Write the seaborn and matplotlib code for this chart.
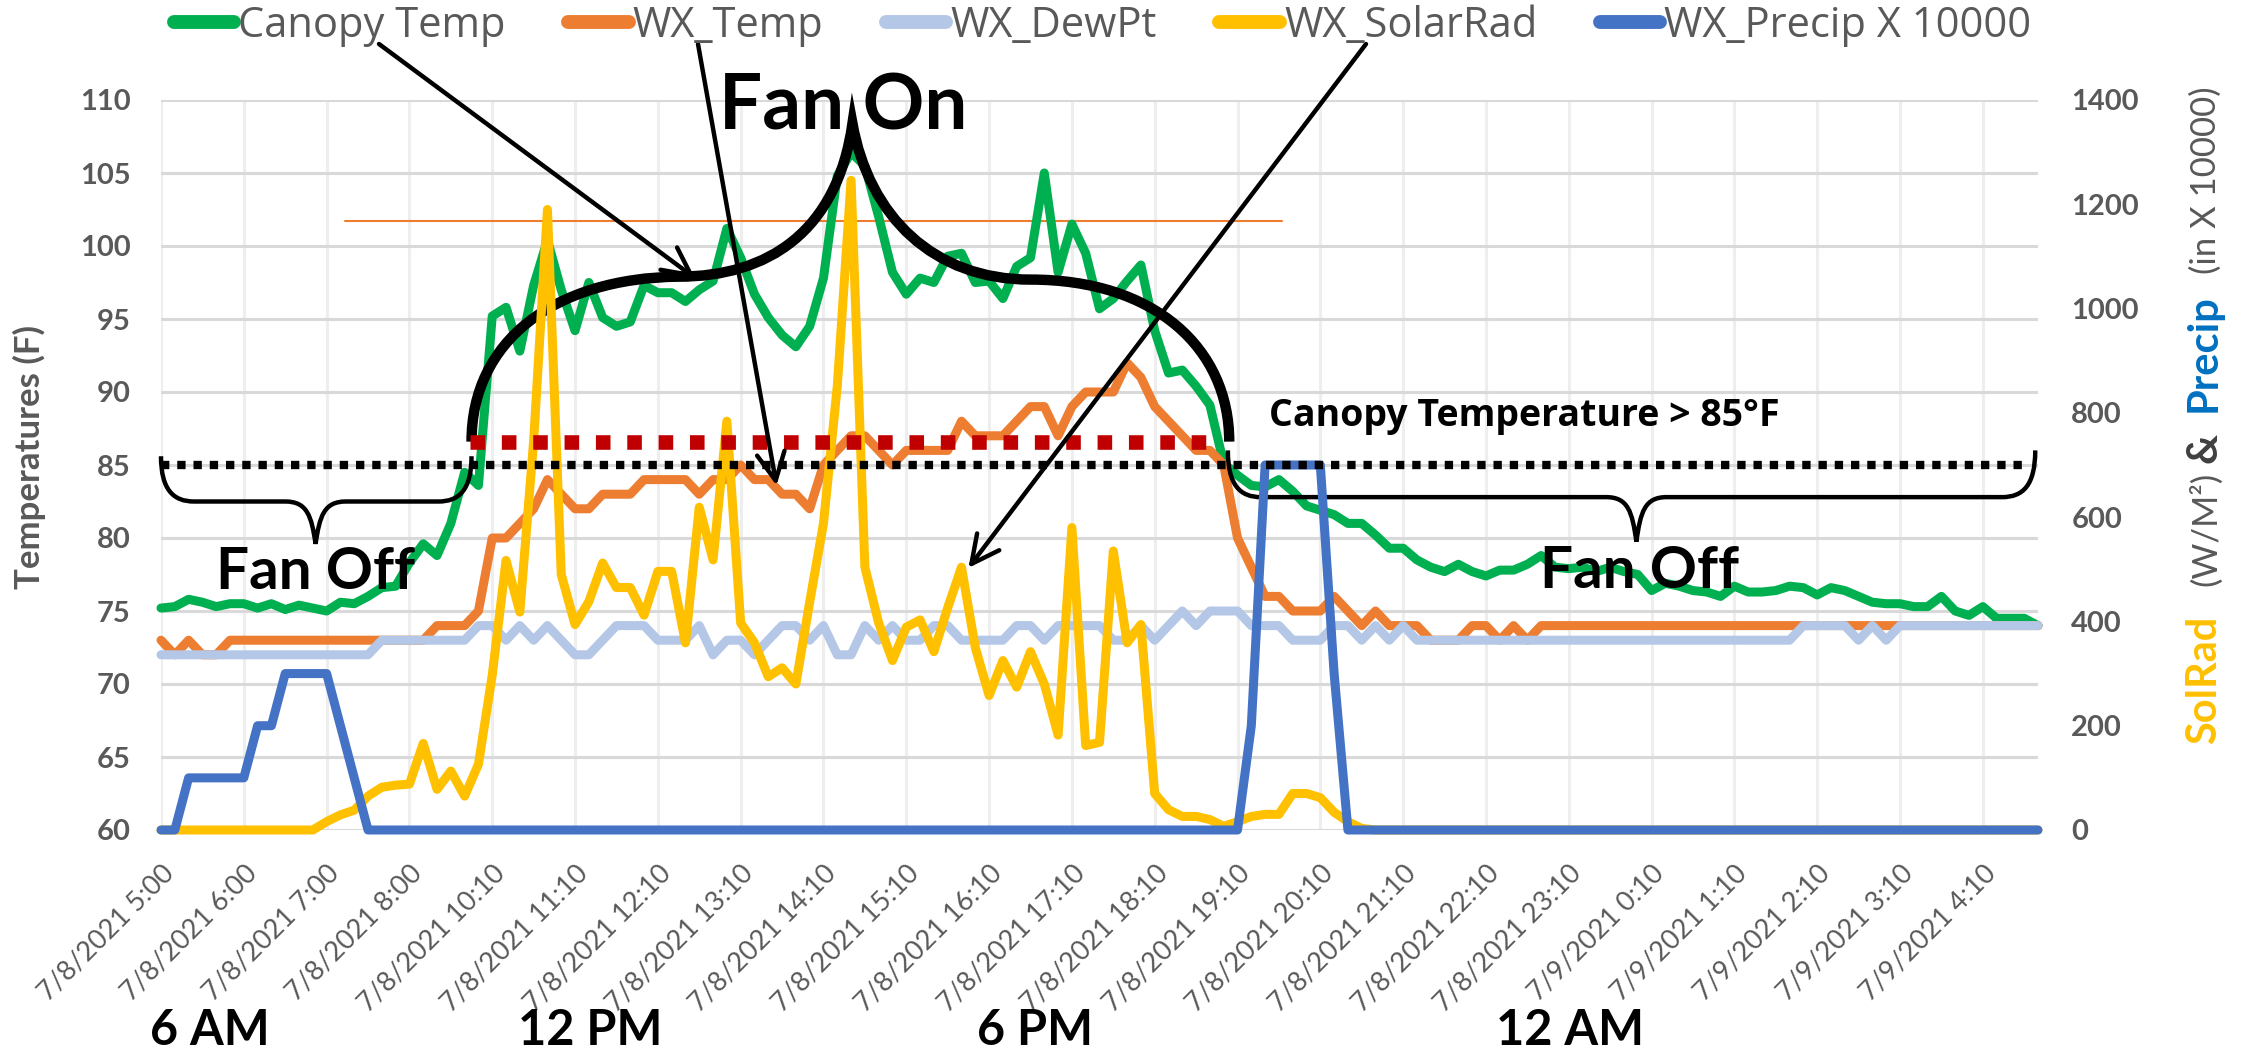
import numpy as np
import pandas as pd
import matplotlib.pyplot as plt
import seaborn as sns
from matplotlib.lines import Line2D
from matplotlib.path import Path
from matplotlib.patches import PathPatch

# 10-minute readings (one gap 8:00 -> 10:10); one axis label every 6 readings
tick_labels = ['7/8/2021 5:00', '7/8/2021 6:00', '7/8/2021 7:00', '7/8/2021 8:00',
               '7/8/2021 10:10', '7/8/2021 11:10', '7/8/2021 12:10', '7/8/2021 13:10',
               '7/8/2021 14:10', '7/8/2021 15:10', '7/8/2021 16:10', '7/8/2021 17:10',
               '7/8/2021 18:10', '7/8/2021 19:10', '7/8/2021 20:10', '7/8/2021 21:10',
               '7/8/2021 22:10', '7/8/2021 23:10', '7/9/2021 0:10', '7/9/2021 1:10',
               '7/9/2021 2:10', '7/9/2021 3:10', '7/9/2021 4:10']

canopy_temp = [
    75.2, 75.3, 75.8, 75.6, 75.3, 75.5, 75.5, 75.2, 75.5, 75.1,
    75.4, 75.2, 75.0, 75.6, 75.5, 76.0, 76.6, 76.7, 78.3, 79.6,
    78.8, 81.0, 84.5, 83.6, 95.2, 95.8, 92.8, 97.3, 100.4, 97.0,
    94.2, 97.5, 95.1, 94.5, 94.8, 97.3, 96.8, 96.8, 96.2, 97.0,
    97.6, 101.2, 99.2, 96.7, 95.1, 93.9, 93.1, 94.5, 97.8, 104.8,
    106.4, 105.5, 102.0, 98.2, 96.7, 97.8, 97.5, 99.3, 99.5, 97.5,
    97.6, 96.4, 98.6, 99.2, 105.0, 98.2, 101.5, 99.5, 95.7, 96.4,
    97.6, 98.7, 94.2, 91.3, 91.5, 90.4, 89.1, 85.1, 84.3, 83.6,
    83.5, 84.0, 83.2, 82.2, 81.9, 81.6, 81.0, 81.0, 80.2, 79.3,
    79.3, 78.5, 78.0, 77.7, 78.2, 77.7, 77.4, 77.8, 77.8, 78.2,
    78.8, 78.0, 77.9, 78.0, 77.7, 78.0, 77.7, 77.5, 76.4, 76.9,
    76.7, 76.4, 76.3, 76.0, 76.7, 76.3, 76.3, 76.4, 76.7, 76.6,
    76.1, 76.6, 76.4, 76.0, 75.6, 75.5, 75.5, 75.3, 75.3, 76.0,
    75.0, 74.7, 75.3, 74.5, 74.5, 74.5, 74.0]

wx_temp = [
    73, 72, 73, 72, 72, 73, 73, 73, 73, 73,
    73, 73, 73, 73, 73, 73, 73, 73, 73, 73,
    74, 74, 74, 75, 80, 80, 81, 82, 84, 83,
    82, 82, 83, 83, 83, 84, 84, 84, 84, 83,
    84, 84, 85, 84, 84, 83, 83, 82, 85, 86,
    87, 87, 86, 85, 86, 86, 86, 86, 88, 87,
    87, 87, 88, 89, 89, 87, 89, 90, 90, 90,
    92, 91, 89, 88, 87, 86, 86, 85, 80, 78,
    76, 76, 75, 75, 75, 76, 75, 74, 75, 74,
    74, 74, 73, 73, 73, 74, 74, 73, 74, 73,
    74, 74, 74, 74, 74, 74, 74, 74, 74, 74,
    74, 74, 74, 74, 74, 74, 74, 74, 74, 74,
    74, 74, 74, 74, 74, 74, 74, 74, 74, 74,
    74, 74, 74, 74, 74, 74, 74]

wx_dewpt = [
    72, 72, 72, 72, 72, 72, 72, 72, 72, 72,
    72, 72, 72, 72, 72, 72, 73, 73, 73, 73,
    73, 73, 73, 74, 74, 73, 74, 73, 74, 73,
    72, 72, 73, 74, 74, 74, 73, 73, 73, 74,
    72, 73, 73, 72, 73, 74, 74, 73, 74, 72,
    72, 74, 73, 74, 73, 73, 74, 74, 73, 73,
    73, 73, 74, 74, 73, 74, 74, 74, 74, 73,
    73, 74, 73, 74, 75, 74, 75, 75, 75, 74,
    74, 74, 73, 73, 73, 74, 74, 73, 74, 73,
    74, 73, 73, 73, 73, 73, 73, 73, 73, 73,
    73, 73, 73, 73, 73, 73, 73, 73, 73, 73,
    73, 73, 73, 73, 73, 73, 73, 73, 73, 74,
    74, 74, 74, 73, 74, 73, 74, 74, 74, 74,
    74, 74, 74, 74, 74, 74, 74]

wx_solar = [
    0, 0, 0, 0, 0, 0, 0, 0, 0, 0,
    0, 0, 16, 29, 38, 65, 82, 86, 88, 166,
    78, 113, 65, 126, 297, 517, 418, 746, 1190, 490,
    394, 438, 512, 465, 465, 412, 496, 496, 359, 619,
    518, 784, 397, 359, 294, 311, 280, 437, 588, 851,
    1246, 504, 397, 325, 389, 403, 342, 426, 504, 350,
    258, 325, 274, 342, 280, 182, 580, 162, 168, 535,
    359, 394, 70, 39, 26, 26, 20, 7, 16, 26,
    30, 30, 70, 70, 62, 34, 16, 3, 0, 0,
    0, 0, 0, 0, 0, 0, 0, 0, 0, 0,
    0, 0, 0, 0, 0, 0, 0, 0, 0, 0,
    0, 0, 0, 0, 0, 0, 0, 0, 0, 0,
    0, 0, 0, 0, 0, 0, 0, 0, 0, 0,
    0, 0, 0, 0, 0, 0, 0]

# precipitation in inches (plotted x 10000)
wx_precip = [
    0, 0, 0.01, 0.01, 0.01, 0.01, 0.01, 0.02, 0.02, 0.03,
    0.03, 0.03, 0.03, 0.02, 0.01, 0, 0, 0, 0, 0,
    0, 0, 0, 0, 0, 0, 0, 0, 0, 0,
    0, 0, 0, 0, 0, 0, 0, 0, 0, 0,
    0, 0, 0, 0, 0, 0, 0, 0, 0, 0,
    0, 0, 0, 0, 0, 0, 0, 0, 0, 0,
    0, 0, 0, 0, 0, 0, 0, 0, 0, 0,
    0, 0, 0, 0, 0, 0, 0, 0, 0, 0.02,
    0.07, 0.07, 0.07, 0.07, 0.07, 0.03, 0, 0, 0, 0,
    0, 0, 0, 0, 0, 0, 0, 0, 0, 0,
    0, 0, 0, 0, 0, 0, 0, 0, 0, 0,
    0, 0, 0, 0, 0, 0, 0, 0, 0, 0,
    0, 0, 0, 0, 0, 0, 0, 0, 0, 0,
    0, 0, 0, 0, 0, 0, 0]

GREEN = '#00B050'
ORANGE = '#ED7D31'
DEW = '#B4C7E7'
YELLOW = '#FFC000'
BLUE = '#4472C4'
GRAY = '#595959'
WIDE = ['Open Sans', 'DejaVu Sans']

df = pd.DataFrame({
    'idx': np.arange(len(canopy_temp)),
    'Canopy Temp': canopy_temp,
    'WX_Temp': wx_temp,
    'WX_DewPt': wx_dewpt,
    'WX_SolarRad': wx_solar,
    'WX_Precip X 10000': np.array(wx_precip) * 10000,
})
n = len(df)

sns.set_theme(style='white')
plt.rcParams['font.family'] = ['Lato', 'DejaVu Sans']

W, H = 2241, 1053
fig = plt.figure(figsize=(W / 100, H / 100), dpi=100)
ax = fig.add_axes([161 / W, 223 / H, 1877 / W, 730 / H])
ax2 = ax.twinx()

line_kw = dict(linewidth=6.5, legend=False, clip_on=False,
               solid_joinstyle='round', solid_capstyle='round')
sns.lineplot(data=df, x='idx', y='Canopy Temp', ax=ax, color=GREEN, **line_kw)
sns.lineplot(data=df, x='idx', y='WX_Temp', ax=ax, color=ORANGE, **line_kw)
sns.lineplot(data=df, x='idx', y='WX_DewPt', ax=ax, color=DEW, **line_kw)
sns.lineplot(data=df, x='idx', y='WX_SolarRad', ax=ax2, color=YELLOW, **line_kw)
sns.lineplot(data=df, x='idx', y='WX_Precip X 10000', ax=ax2, color=BLUE, **line_kw)

for a in (ax, ax2):
    a.set_xlabel('')
    a.set_ylabel('')
    for s in a.spines.values():
        s.set_visible(False)

# thin orange reference line
ax.plot([13.3, 81.2], [101.7, 101.7], color=ORANGE, lw=1.5, zorder=1.5)

# ---- shapes on top layer, drawn in temperature coordinates ----
T = ax.transData
ax2.plot([0, 135], [85, 85], transform=T, color='black', lw=6,
         linestyle=(0, (1.0, 0.95)), solid_capstyle='butt', dash_capstyle='butt')
ax2.plot([22.4, 76.8], [86.6, 86.6], transform=T, color='#C00000', lw=10.5,
         linestyle=(0, (1.0, 1.15)), dash_capstyle='butt')

M, C, L = Path.MOVETO, Path.CURVE4, Path.LINETO
fan_on = Path([(22.5, 86.6), (22.5, 93.5), (28.5, 97.8), (37.5, 97.9),
               (44, 97.9), (49, 101), (50.1, 108.4),
               (51.3, 102), (56, 97.7), (63, 97.7),
               (72, 97.7), (77.4, 93), (77.4, 86.6)],
              [M] + [C] * 12)
ax2.add_patch(PathPatch(fan_on, transform=T, fill=False, ec='black', lw=7.5,
                        clip_on=False, capstyle='butt'))


def brace(x0, x1, xm, top, flat, tip):
    verts = [(x0, top), (x0, flat + 0.8), (x0 + 0.9, flat), (x0 + 2.4, flat),
             (xm - 2.2, flat), (xm - 0.6, flat), (xm - 0.3, flat - 1.0), (xm, tip),
             (xm + 0.3, flat - 1.0), (xm + 0.6, flat), (xm + 2.2, flat),
             (x1 - 2.4, flat), (x1 - 0.9, flat), (x1, flat + 0.8), (x1, top)]
    codes = [M, C, C, C, L, C, C, C, C, C, C, L, C, C, C]
    return PathPatch(Path(verts, codes), transform=T, fill=False, ec='black',
                     lw=3.2, clip_on=False)


ax2.add_patch(brace(0.0, 22.5, 11.2, 85.6, 82.5, 79.6))
ax2.add_patch(brace(77.3, 135.8, 106.9, 86.0, 82.8, 79.75))

arrow = dict(arrowstyle='->', lw=3.2, color='black', mutation_scale=50,
             shrinkA=0, shrinkB=0)
for tip, tail in [((38.7, 97.8), (379, 44)), ((44.6, 83.6), (698, 44)),
                  ((58.5, 77.95), (1366, 44))]:
    ax2.annotate('', xy=tip, xycoords=T, xytext=(tail[0] / W, 1 - tail[1] / H),
                 textcoords='figure fraction', arrowprops=arrow, annotation_clip=False)

ax2.text(49.4, 108.0, 'Fan On', transform=T, ha='center', va='baseline',
         fontsize=55, fontweight='bold', color='black', clip_on=False)
ax2.text(11.2, 76.5, 'Fan Off', transform=T, ha='center', va='baseline',
         fontsize=42, fontweight='bold', color='black')
ax2.text(107.1, 76.6, 'Fan Off', transform=T, ha='center', va='baseline',
         fontsize=42, fontweight='bold', color='black')
ax2.text(80.3, 87.7, 'Canopy Temperature > 85°F', transform=T, ha='left',
         va='baseline', fontsize=27, fontweight='bold', color='black', family=WIDE)

# ---- axes ----
ax.set_xlim(0, n - 1)
ax.set_ylim(60, 110)
ax2.set_ylim(0, 1400)
ax.set_yticks(range(60, 111, 5))
ax2.set_yticks(range(0, 1401, 200))
ax.set_xticks(range(0, 6 * len(tick_labels), 6))
ax.set_xticklabels(tick_labels, rotation=45, ha='right', rotation_mode='anchor',
                   fontsize=19.5, color=GRAY)
ax.tick_params(axis='x', length=0, pad=22)
ax.tick_params(axis='y', length=0, pad=22, labelsize=21, labelcolor=GRAY)
ax2.tick_params(axis='y', length=0, pad=24, labelsize=21, labelcolor=GRAY)
plt.setp(ax.get_yticklabels(), fontweight='bold')
plt.setp(ax2.get_yticklabels(), fontweight='bold')

ax.set_axisbelow(True)
ax.grid(axis='y', color='#D9D9D9', lw=2.2)
ax.grid(axis='x', color='#EEEEEE', lw=2.2)
ax2.grid(False)

fig.text(40 / W, 0.566, 'Temperatures (F)', rotation=90, rotation_mode='anchor',
         ha='center', va='baseline', fontsize=25, fontweight='bold', color=GRAY)

xb = 2216 / W
fig.text(xb, 309 / H, 'SolRad', rotation=90, rotation_mode='anchor', ha='left',
         va='baseline', fontsize=30, fontweight='bold', color=YELLOW)
fig.text(xb, 467 / H, '(W/M²)', rotation=90, rotation_mode='anchor', ha='left',
         va='baseline', fontsize=25, color=GRAY)
fig.text(xb, 590 / H, '&', rotation=90, rotation_mode='anchor', ha='left',
         va='baseline', fontsize=30, fontweight='bold', color='#404040')
fig.text(xb, 641 / H, 'Precip', rotation=90, rotation_mode='anchor', ha='left',
         va='baseline', fontsize=30, fontweight='bold', color='#0070C0')
fig.text(xb, 779 / H, '(in X 10000)', rotation=90, rotation_mode='anchor', ha='left',
         va='baseline', fontsize=25, color=GRAY)

for label, xc in [('6 AM', 210), ('12 PM', 590), ('6 PM', 1035), ('12 AM', 1570)]:
    fig.text(xc / W, 8 / H, label, ha='center', va='baseline', fontsize=35,
             fontweight='bold', color='black')

names = ['Canopy Temp', 'WX_Temp', 'WX_DewPt', 'WX_SolarRad', 'WX_Precip X 10000']
colors = [GREEN, ORANGE, DEW, YELLOW, BLUE]
handles = [Line2D([], [], color=c, lw=10, solid_capstyle='round') for c in colors]
fig.legend(handles, names, loc='center', bbox_to_anchor=(0.492, 1 - 26 / H), ncol=5,
           frameon=False, prop={'family': WIDE, 'size': 30}, labelcolor=GRAY,
           handlelength=1.45, handletextpad=0.1, columnspacing=1.5)

fig.savefig('out.png', dpi=100)
